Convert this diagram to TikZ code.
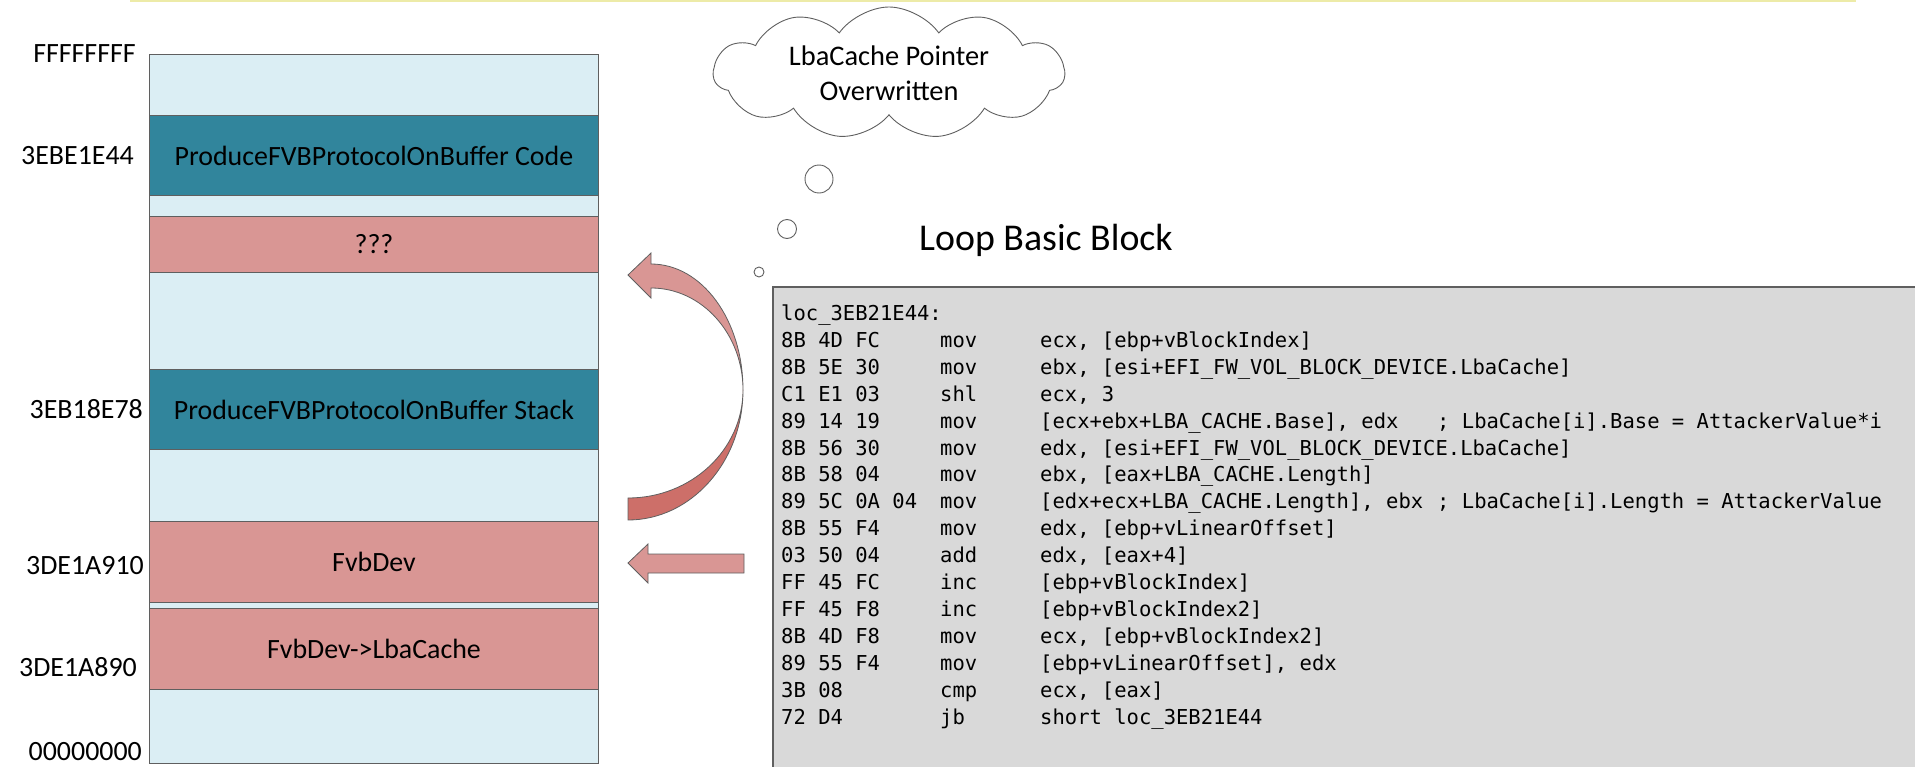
\documentclass[tikz,border=0pt]{standalone}
\usepackage{fontspec}
\setmainfont{Carlito}
\newfontfamily\codefont{DejaVu Sans Mono}
\usetikzlibrary{shapes.symbols}
\definecolor{cfree}{HTML}{DBEEF4}
\definecolor{cteal}{HTML}{31859C}
\definecolor{cpink}{HTML}{D99694}
\definecolor{cdeep}{HTML}{CD6F69}
\definecolor{cgray}{HTML}{D9D9D9}
\definecolor{cline}{HTML}{5F5F5F}
\definecolor{crule}{HTML}{EDEBA8}

\begin{document}
\begin{tikzpicture}[x=1bp, y=-1bp,
    band/.style={draw=cline, line width=1pt, fill=cfree, inner sep=0pt,
                 minimum width=449bp, anchor=north west,
                 font=\fontsize{28}{34}\selectfont},
    addr/.style={anchor=east, inner sep=0pt, font=\fontsize{28}{34}\selectfont},
    bubble/.style={circle, draw=cline, fill=white, line width=0.9pt, inner sep=0pt},
    blockarr/.style={draw=cline, line width=0.8pt, fill=cpink},
    asm/.style={anchor=base west, inner sep=0pt,
                font=\codefont\fontsize{20.6}{25}\selectfont},
  ]
  \clip (0,0) rectangle (1915,767);
  \draw[crule, line width=2bp] (130,1) -- (1856,1);
  % memory map, top to bottom
  \node[band, minimum height=61bp] (free1) at (149,54) {};
  \node[band, fill=cteal, minimum height=80bp] (code) at (149,115)
    {ProduceFVBProtocolOnBuffer Code};
  \node[band, minimum height=21bp] (free2) at (149,195) {};
  \node[band, fill=cpink, minimum height=56bp] (unk) at (149,216) {???};
  \node[band, minimum height=97bp] (free3) at (149,272) {};
  \node[band, fill=cteal, minimum height=80bp] (stack) at (149,369)
    {ProduceFVBProtocolOnBuffer Stack};
  \node[band, minimum height=72bp] (free4) at (149,449) {};
  \node[band, fill=cpink, minimum height=81bp] (fvb) at (149,521) {FvbDev};
  \node[band, minimum height=6bp] (free5) at (149,602) {};
  \node[band, fill=cpink, minimum height=81bp] (lba) at (149,608) {FvbDev->LbaCache};
  \node[band, minimum height=74bp] (free6) at (149,689) {};
  % addresses
  \node[addr] (aTop) at (136,54) {FFFFFFFF};
  \node[addr] (aCode) at (134,156) {3EBE1E44};
  \node[addr] (aStack) at (143,409) {3EB18E78};
  \node[addr] (aFvb) at (144,566) {3DE1A910};
  \node[addr] (aLba) at (137,667) {3DE1A890};
  \node[addr] (aNull) at (142,752) {00000000};
  % the thought
  \node[cloud, cloud puffs=11, cloud puff arc=110, cloud ignores aspect,
        draw=cline, fill=white, line width=0.9pt,
        minimum width=351bp, minimum height=132bp, align=center,
        font=\fontsize{28.5}{35}\selectfont] (thought) at (889,73)
    {LbaCache Pointer\\Overwritten};
  \node[bubble, minimum size=28bp] (bubA) at (819,179) {};
  \node[bubble, minimum size=19bp] (bubB) at (787,229) {};
  \node[bubble, minimum size=10bp] (bubC) at (759,272) {};
  % block arrows
  \filldraw[blockarr] (628,275) -- (651,253) -- (651,264)
    .. controls (702,264) and (743,320) .. (743,390)
    .. controls (743,334) and (702,288) .. (651,288) -- (651,298) -- cycle;
  \filldraw[blockarr, fill=cdeep] (743,390)
    .. controls (743,462) and (691,520) .. (628,520) -- (628,498)
    .. controls (691,498) and (743,450) .. (743,390) -- cycle;
  \filldraw[blockarr] (628,563) -- (648,544) -- (648,554) -- (744,554)
    -- (744,573) -- (648,573) -- (648,583) -- cycle;
  % the loop listing
  \node[font=\fontsize{38}{45}\selectfont] (title) at (1046,240) {Loop Basic Block};
  \draw[draw=cline, fill=cgray, line width=1.2bp] (773,287) rectangle (1935,790);
  \node[asm] (loc) at (781,320.5) {loc\_3EB21E44:};
  \foreach \hex/\op/\arg [count=\k] in {
      8B 4D FC/mov/{ecx, [ebp+vBlockIndex]},
      8B 5E 30/mov/{ebx, [esi+EFI\_FW\_VOL\_BLOCK\_DEVICE.LbaCache]},
      C1 E1 03/shl/{ecx, 3},
      89 14 19/mov/{[ecx+ebx+LBA\_CACHE.Base], edx},
      8B 56 30/mov/{edx, [esi+EFI\_FW\_VOL\_BLOCK\_DEVICE.LbaCache]},
      8B 58 04/mov/{ebx, [eax+LBA\_CACHE.Length]},
      89 5C 0A 04/mov/{[edx+ecx+LBA\_CACHE.Length], ebx},
      8B 55 F4/mov/{edx, [ebp+vLinearOffset]},
      03 50 04/add/{edx, [eax+4]},
      FF 45 FC/inc/{[ebp+vBlockIndex]},
      FF 45 F8/inc/{[ebp+vBlockIndex2]},
      8B 4D F8/mov/{ecx, [ebp+vBlockIndex2]},
      89 55 F4/mov/{[ebp+vLinearOffset], edx},
      3B 08/cmp/{ecx, [eax]},
      72 D4/jb/{short loc\_3EB21E44}} {
    \node[asm] (hex\k) at (781,320.5+26.9*\k) {\hex};
    \node[asm] (op\k) at (940,320.5+26.9*\k) {\op};
    \node[asm] (arg\k) at (1040,320.5+26.9*\k) {\arg};
  }
  \node[asm] (rem4) at (1437,428.1) {; LbaCache[i].Base = AttackerValue*i};
  \node[asm] (rem7) at (1437,508.8) {; LbaCache[i].Length = AttackerValue};
\end{tikzpicture}
\end{document}
